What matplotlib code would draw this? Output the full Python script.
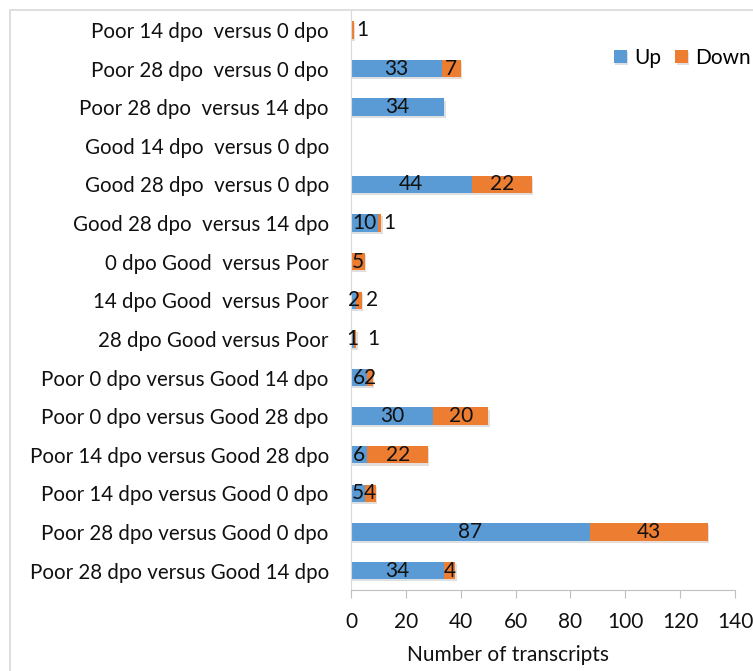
import matplotlib
matplotlib.use("Agg")
import matplotlib.pyplot as plt
from matplotlib.patches import Rectangle
import matplotlib.patheffects as pe
import numpy as np

plt.rcParams['font.family'] = ['Lato', 'DejaVu Sans']

# Comparisons, listed top to bottom as drawn
comparisons = [
    "Poor 14 dpo  versus 0 dpo",
    "Poor 28 dpo  versus 0 dpo",
    "Poor 28 dpo  versus 14 dpo",
    "Good 14 dpo  versus 0 dpo",
    "Good 28 dpo  versus 0 dpo",
    "Good 28 dpo  versus 14 dpo",
    "0 dpo Good  versus Poor",
    "14 dpo Good  versus Poor",
    "28 dpo Good versus Poor",
    "Poor 0 dpo versus Good 14 dpo",
    "Poor 0 dpo versus Good 28 dpo",
    "Poor 14 dpo versus Good 28 dpo",
    "Poor 14 dpo versus Good 0 dpo",
    "Poor 28 dpo versus Good 0 dpo",
    "Poor 28 dpo versus Good 14 dpo",
]
up_counts = [0, 33, 34, 0, 44, 10, 0, 2, 1, 6, 30, 6, 5, 87, 34]
down_counts = [1, 7, 0, 0, 22, 1, 5, 2, 1, 2, 20, 22, 4, 43, 4]

# small Down labels nudged right so they don't sit on top of the Up label
down_label_nudge = {0: 10, 5: 10, 7: 13, 8: 18}

up_color = "#5B9BD5"
down_color = "#ED7D31"
text_color = "#111111"

fig = plt.figure(figsize=(7.53, 6.71), dpi=100)
ax = fig.add_axes([351 / 753, 1 - 590 / 671, 384 / 753, (590 - 10.6) / 671])

# light chart border
fig.patches.append(Rectangle((9.5 / 753, -0.05), 1.1, 1 - 10 / 671 + 0.05,
                             transform=fig.transFigure, fill=False,
                             edgecolor="#D9D9D9", linewidth=1.2))

y = np.arange(len(comparisons))
shadow = [pe.SimplePatchShadow(offset=(1, -1.5), alpha=0.15), pe.Normal()]
bars_up = ax.barh(y, up_counts, height=0.45, color=up_color, label="Up",
                  path_effects=shadow)
bars_down = ax.barh(y, down_counts, left=up_counts, height=0.45,
                    color=down_color, label="Down", path_effects=shadow)

# value labels
for i in range(len(comparisons)):
    if up_counts[i] > 0:
        ax.annotate(str(up_counts[i]), (up_counts[i] / 2, y[i]),
                    ha="center", va="center", fontsize=15, color=text_color)
    if down_counts[i] > 0:
        ax.annotate(str(down_counts[i]),
                    (up_counts[i] + down_counts[i] / 2, y[i]),
                    xytext=(down_label_nudge.get(i, 0), 0),
                    textcoords="offset pixels",
                    ha="center", va="center", fontsize=15, color=text_color)

ax.set_ylim(len(comparisons) - 0.5, -0.5)
ax.set_xlim(0, 140)
ax.set_xticks(np.arange(0, 141, 20))
ax.set_yticks(y)
ax.set_yticklabels(comparisons)

ax.tick_params(axis="y", length=0, pad=16, labelsize=14.8, labelcolor=text_color)
ax.tick_params(axis="x", length=6, direction="out", color="#BFBFBF", pad=10,
               labelsize=15, labelcolor=text_color)

for side in ["top", "right"]:
    ax.spines[side].set_visible(False)
ax.spines["left"].set_color("#D9D9D9")
ax.spines["bottom"].set_color("#BFBFBF")

ax.set_xlabel("Number of transcripts", fontsize=15, color=text_color)
ax.xaxis.set_label_coords(0.41, -0.095)

fig.legend(handles=[bars_up, bars_down], labels=["Up", "Down"],
           loc="center left", bbox_to_anchor=(614 / 753, 1 - 58 / 671),
           ncol=2, frameon=False, fontsize=15, handlelength=0.6,
           handleheight=0.6, handletextpad=0.35, columnspacing=0.7,
           borderpad=0, borderaxespad=0)

fig.savefig("out.png", dpi=100)
